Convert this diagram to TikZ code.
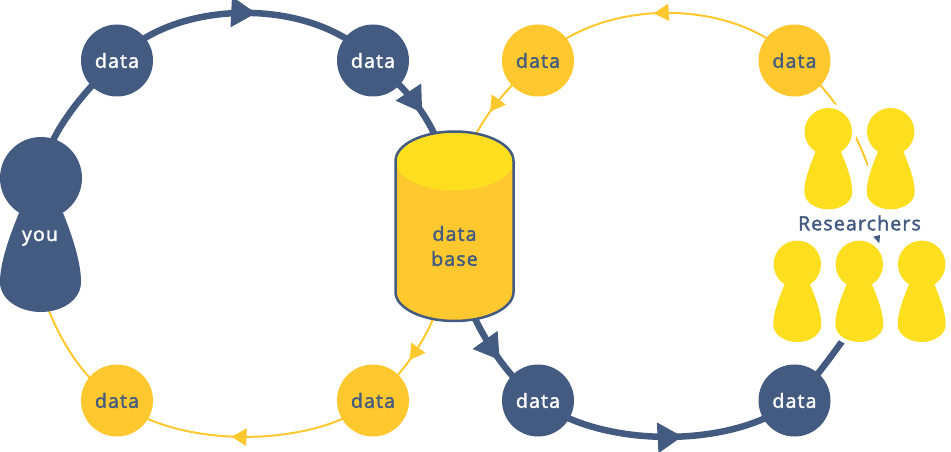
\documentclass[tikz,border=0pt]{standalone}
\usepackage{fontspec}
\newfontfamily\lab[LetterSpace=6,FakeBold=2]{Open Sans}
\usetikzlibrary{arrows.meta,decorations.markings,backgrounds}
\definecolor{navy}{HTML}{435B80}
\definecolor{amber}{HTML}{FEC82E}
\definecolor{lemon}{HTML}{FDDF20}
\tikzset{
  x=1pt,y=-1pt,
  every node/.style={font=\lab\fontsize{19.5}{24}\selectfont,inner sep=0pt},
  bluedot/.style={circle,fill=navy,text=white,minimum size=72pt},
  ambdot/.style={circle,fill=amber,text=navy,minimum size=72pt},
  blueflow/.style={draw=navy,line width=6.5pt},
  ambflow/.style={draw=amber,line width=2pt},
  bluemid/.style={postaction={decorate,decoration={markings,mark=at position #1 with {\arrow[navy]{Triangle[length=25pt,width=29pt]}}}}},
  ambmid/.style={postaction={decorate,decoration={markings,mark=at position #1 with {\arrow[amber]{Triangle[length=15pt,width=17pt]}}}}},
  pawn/.pic={
    \coordinate (-c) at (0,0);
    \path[draw=white,line width=9pt,fill=white] (0,0) circle[radius=23.7];
    \path[draw=white,line width=9pt,fill=white,line join=round] (-12.7,20) .. controls (-18,33) and (-24,48) .. (-24,60) .. controls (-24,71) and (-12,77.7) .. (0,77.7) .. controls (12,77.7) and (24,71) .. (24,60) .. controls (24,48) and (18,33) .. (12.7,20) -- cycle;
    \fill[lemon] (0,0) circle[radius=23.7];
    \fill[lemon] (-12.7,20) .. controls (-18,33) and (-24,48) .. (-24,60) .. controls (-24,71) and (-12,77.7) .. (0,77.7) .. controls (12,77.7) and (24,71) .. (24,60) .. controls (24,48) and (18,33) .. (12.7,20) -- cycle;
  }
}
\begin{document}
\begin{tikzpicture}
\useasboundingbox (0,0) rectangle (951,452);
% data nodes
\node[bluedot] (d1) at (117,60.5) {data};
\node[bluedot] (d2) at (373,60.5) {data};
\node[bluedot] (d3) at (538,400.5) {data};
\node[bluedot] (d4) at (794.5,400.5) {data};
\node[ambdot] (a1) at (538,60.5) {data};
\node[ambdot] (a2) at (794.5,60.5) {data};
\node[ambdot] (a3) at (117,400.5) {data};
\node[ambdot] (a4) at (373,400.5) {data};
% you
\fill[navy] (41,178) circle[radius=41];
\fill[navy] (19,213) .. controls (10,235) and (0,262) .. (0,282) .. controls (0,300) and (20,312) .. (41,312) .. controls (62,312) and (81,300) .. (81,282) .. controls (81,262) and (72,235) .. (63,213) -- cycle;
\node[text=white] (you) at (40,238) {you};
\coordinate (youtop) at (41,178);
\coordinate (youbot) at (41,290);
% database
\path[fill=amber] (395.5,161) arc[x radius=59,y radius=29.5,start angle=180,end angle=360] -- (513.5,292) arc[x radius=59,y radius=29,start angle=0,end angle=180] -- cycle;
\begin{scope}
\clip (395.5,161) arc[x radius=59,y radius=29.5,start angle=180,end angle=360] -- (513.5,292) -- (395.5,292) -- cycle;
\fill[lemon] (454.5,161) ellipse[x radius=59,y radius=29.5];
\end{scope}
\path[draw=navy,line width=2.5pt] (395.5,161) arc[x radius=59,y radius=29.5,start angle=180,end angle=360] -- (513.5,292) arc[x radius=59,y radius=29,start angle=0,end angle=180] -- cycle;
\node[align=center,text=navy] (db) at (454.5,246) {data\\[1pt]base};
\coordinate (dbnw) at (437,140);
\coordinate (dbne) at (473,140);
\coordinate (dbsw) at (436,312);
\coordinate (dbse) at (472,312);
\coordinate (r2low) at (870,172);
\coordinate (r4low) at (846,336);
% stray arrow fragment
\fill[navy] (873.3,236.7) -- (880,235) -- (879.3,243.3) -- cycle;
% researchers
\pic (r1) at (828.3,131.7) {pawn};
\pic (r2) at (890.7,131.7) {pawn};
\pic (r3) at (797.3,264.3) {pawn};
\pic (r4) at (859.3,264.3) {pawn};
\pic (r5) at (921.7,264.3) {pawn};
\node[text=navy] (res) at (859.5,223) {Researchers};
% connectors
\begin{scope}[on background layer]
\path[blueflow] (youtop) .. controls (46,135) and (85,90) .. (d1.center);
\path[blueflow,bluemid=0.54] (d1.center) .. controls (175,-3) and (315,-3) .. (d2.center);
\path[blueflow,bluemid=0.70] (d2.center) .. controls (392,78) and (420,100) .. (dbnw);
\path[blueflow,bluemid=0.50] (dbse) .. controls (482,335) and (505,375) .. (d3.center);
\path[blueflow,bluemid=0.56] (d3.center) .. controls (600,449) and (735,449) .. (d4.center);
\path[blueflow] (d4.center) .. controls (812,383) and (830,358) .. (r4low);
\path[ambflow,ambmid=0.545] (a2.center) .. controls (735,-3) and (600,-3) .. (a1.center);
\path[ambflow,ambmid=0.68] (a1.center) .. controls (518,78) and (490,105) .. (dbne);
\path[ambflow,ambmid=0.50] (dbsw) .. controls (425,340) and (405,372) .. (a4.center);
\path[ambflow,ambmid=0.55] (a4.center) .. controls (315,449) and (175,449) .. (a3.center);
\path[ambflow] (a3.center) .. controls (85,380) and (60,345) .. (youbot);
\path[ambflow] (a2.center) .. controls (825,85) and (855,125) .. (r2low);
\end{scope}
\end{tikzpicture}
\end{document}
